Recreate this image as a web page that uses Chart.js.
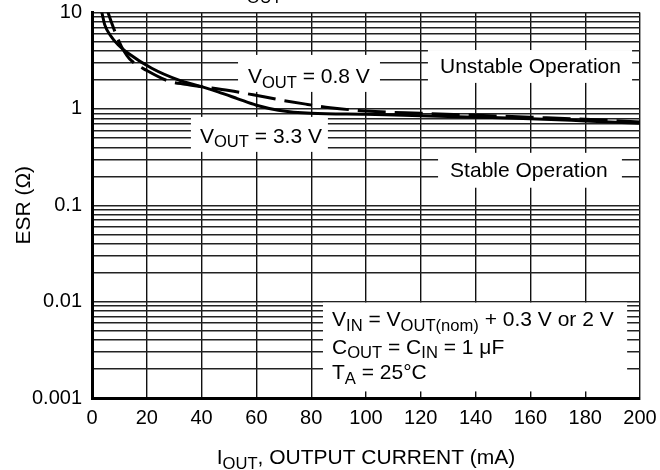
<!DOCTYPE html>
<html>
<head>
<meta charset="utf-8">
<script src="https://cdn.jsdelivr.net/npm/chart.js@4/dist/chart.umd.min.js"></script>
<style>
  html, body { margin: 0; padding: 0; background: #fff; }
  #wrap { width: 660px; height: 470px; }
</style>
</head>
<body>
<div id="wrap"><canvas id="c" width="660" height="470"></canvas></div>
<script>
// Output current (mA) and ESR (ohm) along each stability boundary
const solidCurrent = [2.6, 3.5, 4.7, 6.6, 9.6, 13.2, 21.8, 31.5, 40, 46, 53, 60, 68, 80, 100, 120, 140, 160, 180, 200];
const solidEsr     = [12, 10.2, 7.4, 5.85, 4.6, 3.78, 2.64, 2.0, 1.70, 1.50, 1.28, 1.09, 0.97, 0.90, 0.88, 0.85, 0.82, 0.79, 0.75, 0.71];

const dashCurrent = [5.0, 5.7, 8.4, 10.8, 12.7, 14.5, 20, 27.8, 34, 40, 50, 58.8, 68.6, 78, 86.9, 100, 120, 140, 160, 180, 200];
const dashEsr     = [12, 10.3, 6.3, 4.4, 3.6, 3.14, 2.5, 1.95, 1.80, 1.70, 1.55, 1.40, 1.24, 1.12, 1.03, 0.95, 0.90, 0.86, 0.82, 0.78, 0.73];

const seriesNames = ['VOUT = 3.3 V', 'VOUT = 0.8 V'];

// Axis ticks
const xTicks = [0, 20, 40, 60, 80, 100, 120, 140, 160, 180, 200];
const yDecades = [0.001, 0.01, 0.1, 1, 10];
const yTickLabels = ['0.001', '0.01', '0.1', '1', '10'];

const FONT = '"Liberation Sans", Arial, Helvetica, sans-serif';

// log grid: decades plus 2..9 multiples inside each decade
const yGrid = [];
yDecades.forEach((d, i) => {
  yGrid.push(d);
  if (i < yDecades.length - 1) {
    for (let m = 2; m <= 9; m++) yGrid.push(Number((d * m).toPrecision(3)));
  }
});

const toPoints = (xs, ys) => xs.map((x, i) => ({ x: x, y: ys[i] }));

// rich text: list of [text, isSubscript]
function drawRich(ctx, parts, x, y, size) {
  let cx = x;
  const sub = size * 0.79;
  ctx.textBaseline = 'alphabetic';
  ctx.textAlign = 'left';
  parts.forEach(([t, isSub]) => {
    ctx.font = (isSub ? sub : size) + 'px ' + FONT;
    ctx.fillText(t, cx, isSub ? y + size * 0.22 : y);
    cx += ctx.measureText(t).width;
  });
  return cx - x;
}

function measureRich(ctx, parts, size) {
  let w = 0;
  parts.forEach(([t, isSub]) => {
    ctx.font = (isSub ? size * 0.79 : size) + 'px ' + FONT;
    w += ctx.measureText(t).width;
  });
  return w;
}

// white label boxes (data units: x0, x1 in mA; y0, y1 in ohm)
const boxes = [
  { x0: 53.3, x1: 105.1, y0: 3.63, y1: 1.50 },
  { x0: 122.6, x1: 197.1, y0: 4.08, y1: 1.86 },
  { x0: 36.1, x1: 86.1, y0: 0.826, y1: 0.358 },
  { x0: 126.3, x1: 193.4, y0: 0.35, y1: 0.152 },
  { x0: 84.3, x1: 195.3, y0: 0.00977, y1: 0.00117 }
];

// text labels anchored at (mA, ohm) baseline-left
const labels = [
  { x: 56.9, y: 1.86, parts: [['V', false], ['OUT', true], [' = 0.8 V', false]] },
  { x: 127.0, y: 2.34, parts: [['Unstable Operation', false]] },
  { x: 39.4, y: 0.444, parts: [['V', false], ['OUT', true], [' = 3.3 V', false]] },
  { x: 130.7, y: 0.197, parts: [['Stable Operation', false]] },
  { x: 87.6, y: 0.00555, parts: [['V', false], ['IN', true], [' = V', false], ['OUT(nom)', true], [' + 0.3 V or 2 V', false]] },
  { x: 87.6, y: 0.00289, parts: [['C', false], ['OUT', true], [' = C', false], ['IN', true], [' = 1 \u03BCF', false]] },
  { x: 87.6, y: 0.001556, parts: [['T', false], ['A', true], [' = 25\u00B0C', false]] }
];

const annotate = {
  id: 'annotate',
  beforeDatasetsDraw(chart) {
    const { ctx, scales: { x, y } } = chart;
    ctx.save();
    ctx.fillStyle = '#fff';
    boxes.forEach(b => {
      const l = x.getPixelForValue(b.x0), r = x.getPixelForValue(b.x1);
      const t = y.getPixelForValue(b.y0), bt = y.getPixelForValue(b.y1);
      ctx.fillRect(l, t, r - l, bt - t);
    });
    ctx.restore();
  },
  afterDatasetsDraw(chart) {
    const { ctx, scales: { x, y } } = chart;
    ctx.save();
    ctx.fillStyle = '#000';
    labels.forEach(lb => {
      drawRich(ctx, lb.parts, x.getPixelForValue(lb.x), y.getPixelForValue(lb.y), 21);
    });
    ctx.restore();
  },
  afterDraw(chart) {
    const { ctx, chartArea } = chart;
    ctx.save();
    ctx.fillStyle = '#000';
    // heading above the plot, running off the top edge
    drawRich(ctx, [['I', false], ['OUT', true]], 241, -1.5, 21);
    // x-axis title, centred under the plot
    const parts = [['I', false], ['OUT', true], [', OUTPUT CURRENT (mA)', false]];
    const w = measureRich(ctx, parts, 21);
    const cx = (chartArea.left + chartArea.right) / 2;
    drawRich(ctx, parts, cx - w / 2, 464, 21);
    // y-axis title
    ctx.translate(24, (chartArea.top + chartArea.bottom) / 2);
    ctx.rotate(-Math.PI / 2);
    ctx.font = '21px ' + FONT;
    ctx.textAlign = 'center';
    ctx.textBaseline = 'middle';
    ctx.fillText('ESR (\u03A9)', 0, 0);
    ctx.restore();
  }
};

new Chart(document.getElementById('c'), {
  type: 'line',
  data: {
    datasets: [
      {
        label: seriesNames[0],
        data: toPoints(solidCurrent, solidEsr),
        borderColor: '#000',
        borderWidth: 3,
        pointRadius: 0,
        cubicInterpolationMode: 'monotone',
        clip: 0
      },
      {
        label: seriesNames[1],
        data: toPoints(dashCurrent, dashEsr),
        borderColor: '#000',
        borderWidth: 3,
        borderDash: [28, 9],
        pointRadius: 0,
        cubicInterpolationMode: 'monotone',
        clip: 0
      }
    ]
  },
  options: {
    responsive: false,
    animation: false,
    events: [],
    layout: { padding: { top: 12.5, right: 20, left: 0, bottom: 0 } },
    plugins: { legend: { display: false }, tooltip: { enabled: false }, title: { display: false } },
    scales: {
      x: {
        type: 'linear',
        min: 0,
        max: 200,
        afterFit(s) { s.height = 72; s.paddingLeft = 0; s.paddingRight = 0; },
        afterBuildTicks(s) { s.ticks = xTicks.map(v => ({ value: v })); },
        ticks: {
          autoSkip: false,
          maxRotation: 0,
          padding: 8,
          color: '#000',
          font: { family: FONT, size: 20 },
          callback: v => String(v)
        },
        grid: { color: '#111', lineWidth: 1.4, drawTicks: false },
        border: { color: '#000', width: 3 }
      },
      y: {
        type: 'logarithmic',
        min: 0.001,
        max: 10,
        afterFit(s) { s.width = 92; s.paddingTop = 0; s.paddingBottom = 0; },
        afterBuildTicks(s) { s.ticks = yGrid.map(v => ({ value: v })); },
        ticks: {
          autoSkip: false,
          padding: 10,
          color: '#000',
          font: { family: FONT, size: 20 },
          callback(v) {
            const i = yDecades.findIndex(d => Math.abs(d - v) / d < 1e-6);
            return i >= 0 ? yTickLabels[i] : '';
          }
        },
        grid: { color: '#222', lineWidth: 1.4, drawTicks: false },
        border: { color: '#000', width: 3 }
      }
    }
  },
  plugins: [annotate]
});
</script>
</body>
</html>
